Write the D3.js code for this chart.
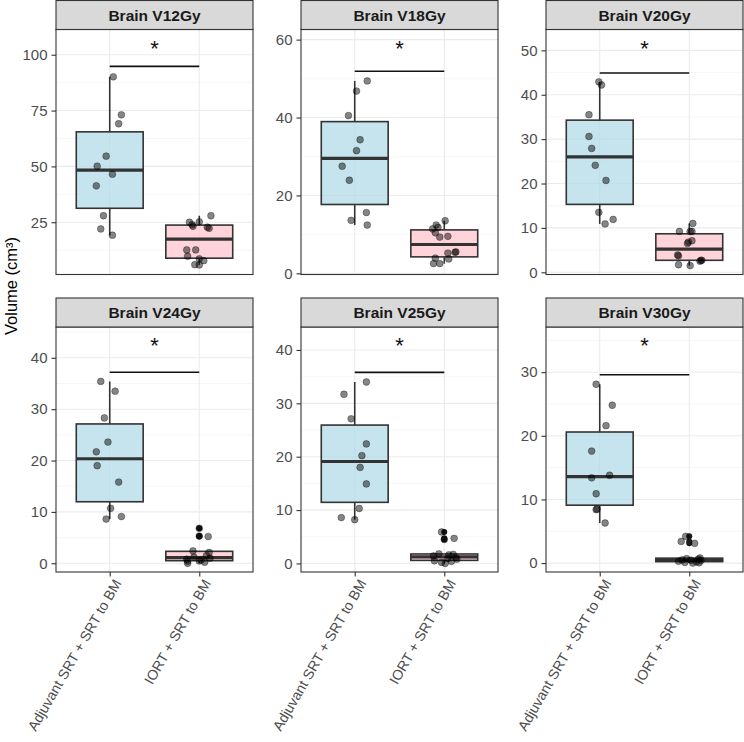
<!DOCTYPE html>
<html>
<head>
<meta charset="utf-8">
<script src="https://cdn.jsdelivr.net/npm/d3@7/dist/d3.min.js"></script>
<style>
body { margin: 0; background: #fff; }
text { font-family: "Liberation Sans", Arial, sans-serif; }
</style>
</head>
<body>
<script>
// facet titles and the two treatment groups
const panelNames = ['Brain V12Gy', 'Brain V18Gy', 'Brain V20Gy', 'Brain V24Gy', 'Brain V25Gy', 'Brain V30Gy'];
const groups = ['Adjuvant SRT + SRT to BM', 'IORT + SRT to BM'];

// volumes (cm3), one list per panel
const adjuvantValues = [
    [90.1, 73.1, 69.1, 54.6, 50.1, 46.5, 41.3, 27.9, 22.0, 19.2],
    [49.4, 46.8, 40.5, 34.3, 31.5, 27.5, 23.9, 15.6, 13.6, 12.4],
    [42.9, 42.2, 35.5, 30.6, 27.9, 24.1, 20.7, 13.5, 11.9, 10.9],
    [35.4, 33.5, 28.3, 23.6, 21.7, 19.0, 15.8, 10.7, 9.1, 8.6],
    [34.0, 31.7, 27.1, 22.4, 20.2, 18.0, 14.9, 10.3, 8.6, 8.2],
    [28.1, 24.8, 21.6, 17.6, 13.8, 13.4, 10.9, 8.5, 8.4, 6.3]
];
const adjuvantJitter = [
    [0.04, 0.13, 0.10, -0.04, -0.14, 0.03, -0.15, -0.07, -0.10, 0.03],
    [0.14, 0.02, -0.07, 0.06, 0.02, -0.14, -0.06, 0.13, -0.04, 0.14],
    [-0.01, 0.02, -0.12, -0.12, -0.09, -0.05, 0.07, -0.01, 0.15, 0.06],
    [-0.10, 0.06, -0.06, -0.02, -0.15, -0.14, 0.10, 0.01, 0.13, -0.04],
    [0.13, -0.12, -0.04, 0.13, 0.08, 0.06, 0.13, 0.05, -0.15, 0.00],
    [-0.04, 0.14, 0.07, -0.09, 0.11, -0.09, -0.04, -0.03, -0.04, 0.06]
];
const iortValues = [
    [27.9, 25.0, 23.2, 25.2, 22.8, 22.3, 23.9, 12.6, 12.6, 9.8, 8.6, 7.8, 6.0, 5.9],
    [13.5, 12.4, 11.8, 11.4, 10.4, 9.5, 9.3, 5.5, 5.4, 5.2, 3.9, 3.7, 2.5, 2.5],
    [11.0, 9.2, 9.2, 9.2, 7.1, 6.8, 6.5, 3.9, 3.7, 2.7, 2.7, 2.5, 1.7, 1.5],
    [6.8, 5.3, 5.2, 2.4, 2.1, 1.5, 1.2, 1.0, 0.8, 0.65, 0.45, 0.4, 0.2, 0.0],
    [5.9, 4.7, 4.5, 1.8, 1.7, 1.6, 1.4, 1.1, 0.9, 0.8, 0.5, 0.4, 0.2, 0.0],
    [4.2, 3.4, 3.1, 0.8, 0.7, 0.6, 0.5, 0.45, 0.4, 0.3, 0.2, 0.1, 0.05, 0.0]
];
const iortJitter = [
    [0.13, -0.11, -0.07, 0.00, 0.09, 0.11, -0.08, -0.04, -0.14, -0.13, 0.00, 0.05, -0.05, 0.00],
    [0.01, -0.09, -0.07, -0.13, -0.10, 0.04, -0.05, 0.13, 0.12, 0.04, -0.10, 0.05, -0.12, -0.05],
    [0.04, -0.11, 0.01, 0.03, 0.03, -0.01, -0.02, -0.13, -0.12, 0.13, 0.14, 0.12, -0.12, 0.01],
    [0.00, 0.00, 0.10, -0.07, 0.11, 0.08, -0.06, 0.12, -0.14, 0.02, 0.00, -0.13, 0.06, -0.13],
    [-0.03, 0.11, 0.00, -0.06, 0.10, 0.05, -0.12, 0.13, 0.04, 0.14, -0.11, 0.08, -0.03, 0.01],
    [-0.04, -0.09, 0.06, 0.12, -0.03, 0.10, -0.08, 0.02, 0.13, -0.12, 0.08, -0.05, 0.11, 0.04]
];

// axis limits, tick labels and the height of the significance bar
const yDomains = [[1.6, 111.3], [-0.3, 62.6], [-0.5, 54.7], [-1.7, 46.0], [-1.6, 44.3], [-1.4, 37.1]];
const yTicks = [[25, 50, 75, 100], [0, 20, 40, 60], [0, 10, 20, 30, 40, 50], [0, 10, 20, 30, 40], [0, 10, 20, 30, 40], [0, 10, 20, 30]];
const sigValues = [94.8, 51.9, 44.9, 37.2, 35.8, 29.6];
const sigLabel = '*';

const svgWidth = 744;
const svgHeight = 742;
const panelLefts = [56, 301, 546];
const rowTops = [0.5, 298];
const panelWidth = 197;
const stripHeight = 29;
const plotHeight = 245;
const fills = ['#add8e6', '#ffc0cb'];
const fontFamily = '"Liberation Sans", Arial, sans-serif';

const svg = d3.select('body').append('svg')
    .attr('width', svgWidth)
    .attr('height', svgHeight);

function boxStats(vals) {
    const s = vals.slice().sort(d3.ascending);
    const q1 = d3.quantile(s, 0.25);
    const med = d3.quantile(s, 0.5);
    const q3 = d3.quantile(s, 0.75);
    const iqr = q3 - q1;
    const inside = s.filter(v => v >= q1 - 1.5 * iqr && v <= q3 + 1.5 * iqr);
    return {
        q1: q1, med: med, q3: q3,
        lo: d3.min(inside), hi: d3.max(inside),
        out: s.filter(v => v < q1 - 1.5 * iqr || v > q3 + 1.5 * iqr)
    };
}

panelNames.forEach((name, p) => {
    const col = p % 3;
    const row = Math.floor(p / 3);
    const g = svg.append('g')
        .attr('transform', 'translate(' + panelLefts[col] + ',' + rowTops[row] + ')');
    const plot = g.append('g').attr('transform', 'translate(0,' + stripHeight + ')');

    const x = d3.scaleLinear().domain([0.4, 2.6]).range([0, panelWidth]);
    const y = d3.scaleLinear().domain(yDomains[p]).range([plotHeight, 0]);

    // grid: minor lines half way between majors
    const ticks = yTicks[p];
    const step = ticks[1] - ticks[0];
    const minor = [ticks[0] - step / 2].concat(ticks.map(t => t + step / 2))
        .filter(v => v > yDomains[p][0] && v < yDomains[p][1]);

    plot.selectAll('.minor').data(minor).enter().append('line')
        .attr('x1', 0).attr('x2', panelWidth)
        .attr('y1', d => y(d)).attr('y2', d => y(d))
        .attr('stroke', '#f2f2f2').attr('stroke-width', 0.6);
    plot.selectAll('.major').data(ticks).enter().append('line')
        .attr('x1', 0).attr('x2', panelWidth)
        .attr('y1', d => y(d)).attr('y2', d => y(d))
        .attr('stroke', '#ebebeb').attr('stroke-width', 1.1);
    plot.selectAll('.vgrid').data([1, 2]).enter().append('line')
        .attr('x1', d => x(d)).attr('x2', d => x(d))
        .attr('y1', 0).attr('y2', plotHeight)
        .attr('stroke', '#ebebeb').attr('stroke-width', 1.1);

    const series = [adjuvantValues[p], iortValues[p]];
    const jitter = [adjuvantJitter[p], iortJitter[p]];

    series.forEach((vals, gi) => {
        const st = boxStats(vals);
        const cx = x(gi + 1);
        const bw = (x(1.45) - x(1)) * 2 * 0.83;
        const bg = plot.append('g');
        bg.append('line')
            .attr('x1', cx).attr('x2', cx)
            .attr('y1', y(st.hi)).attr('y2', y(st.q3))
            .attr('stroke', '#333').attr('stroke-width', 1.6);
        bg.append('line')
            .attr('x1', cx).attr('x2', cx)
            .attr('y1', y(st.q1)).attr('y2', y(st.lo))
            .attr('stroke', '#333').attr('stroke-width', 1.6);
        bg.append('rect')
            .attr('x', cx - bw / 2).attr('width', bw)
            .attr('y', y(st.q3)).attr('height', y(st.q1) - y(st.q3))
            .attr('fill', fills[gi]).attr('fill-opacity', 0.7)
            .attr('stroke', '#333').attr('stroke-width', 1.6);
        bg.append('line')
            .attr('x1', cx - bw / 2).attr('x2', cx + bw / 2)
            .attr('y1', y(st.med)).attr('y2', y(st.med))
            .attr('stroke', '#333').attr('stroke-width', 3.2);
        bg.selectAll('.outlier').data(st.out).enter().append('circle')
            .attr('cx', cx).attr('cy', d => y(d)).attr('r', 3)
            .attr('fill', '#1a1a1a');
        bg.selectAll('.pt').data(vals).enter().append('circle')
            .attr('cx', (d, i) => x(gi + 1 + jitter[gi][i]))
            .attr('cy', d => y(d))
            .attr('r', 3.4)
            .attr('fill', '#000').attr('fill-opacity', 0.48)
            .attr('stroke', '#000').attr('stroke-opacity', 0.4).attr('stroke-width', 0.8);
    });

    // significance bar and label
    plot.append('line')
        .attr('x1', x(1)).attr('x2', x(2))
        .attr('y1', y(sigValues[p])).attr('y2', y(sigValues[p]))
        .attr('stroke', '#111').attr('stroke-width', 1.6);
    plot.append('text')
        .attr('x', x(1.5)).attr('y', 26)
        .attr('text-anchor', 'middle')
        .attr('font-size', 22).attr('fill', '#111')
        .text(sigLabel);

    // y axis
    const yAxis = plot.append('g')
        .call(d3.axisLeft(y).tickValues(ticks).tickSize(4.5).tickPadding(4));
    yAxis.select('.domain').remove();
    yAxis.selectAll('line').attr('stroke', '#333').attr('stroke-width', 1.1);
    yAxis.selectAll('text').attr('font-size', 15).attr('fill', '#4d4d4d')
        .style('font-family', fontFamily);

    // x axis only under the bottom row
    if (row === 1) {
        const xAxis = plot.append('g')
            .attr('transform', 'translate(0,' + plotHeight + ')')
            .call(d3.axisBottom(x).tickValues([1, 2]).tickFormat(d => groups[d - 1]).tickSize(4.5));
        xAxis.select('.domain').remove();
        xAxis.selectAll('line').attr('stroke', '#333').attr('stroke-width', 1.1);
        xAxis.selectAll('text')
            .attr('font-size', 14.2).attr('fill', '#4d4d4d')
            .style('font-family', fontFamily)
            .attr('text-anchor', 'end')
            .attr('x', 0).attr('y', 0).attr('dy', '0.7em')
            .attr('transform', 'translate(3,6) rotate(-60)');
    }

    // panel border
    plot.append('rect')
        .attr('x', 0).attr('y', 0)
        .attr('width', panelWidth).attr('height', plotHeight)
        .attr('fill', 'none').attr('stroke', '#333').attr('stroke-width', 1.1);

    // strip
    g.append('rect')
        .attr('x', 0).attr('y', 0)
        .attr('width', panelWidth).attr('height', stripHeight)
        .attr('fill', '#d9d9d9').attr('stroke', '#333').attr('stroke-width', 1.1);
    g.append('text')
        .attr('x', panelWidth / 2).attr('y', stripHeight / 2)
        .attr('dy', '0.36em')
        .attr('text-anchor', 'middle')
        .attr('font-size', 15.5).attr('font-weight', 'bold').attr('fill', '#1a1a1a')
        .text(name);
});

svg.append('text')
    .attr('transform', 'translate(17,286) rotate(-90)')
    .attr('text-anchor', 'middle')
    .attr('font-size', 16.5).attr('fill', '#000')
    .text('Volume (cm³)');
</script>
</body>
</html>
